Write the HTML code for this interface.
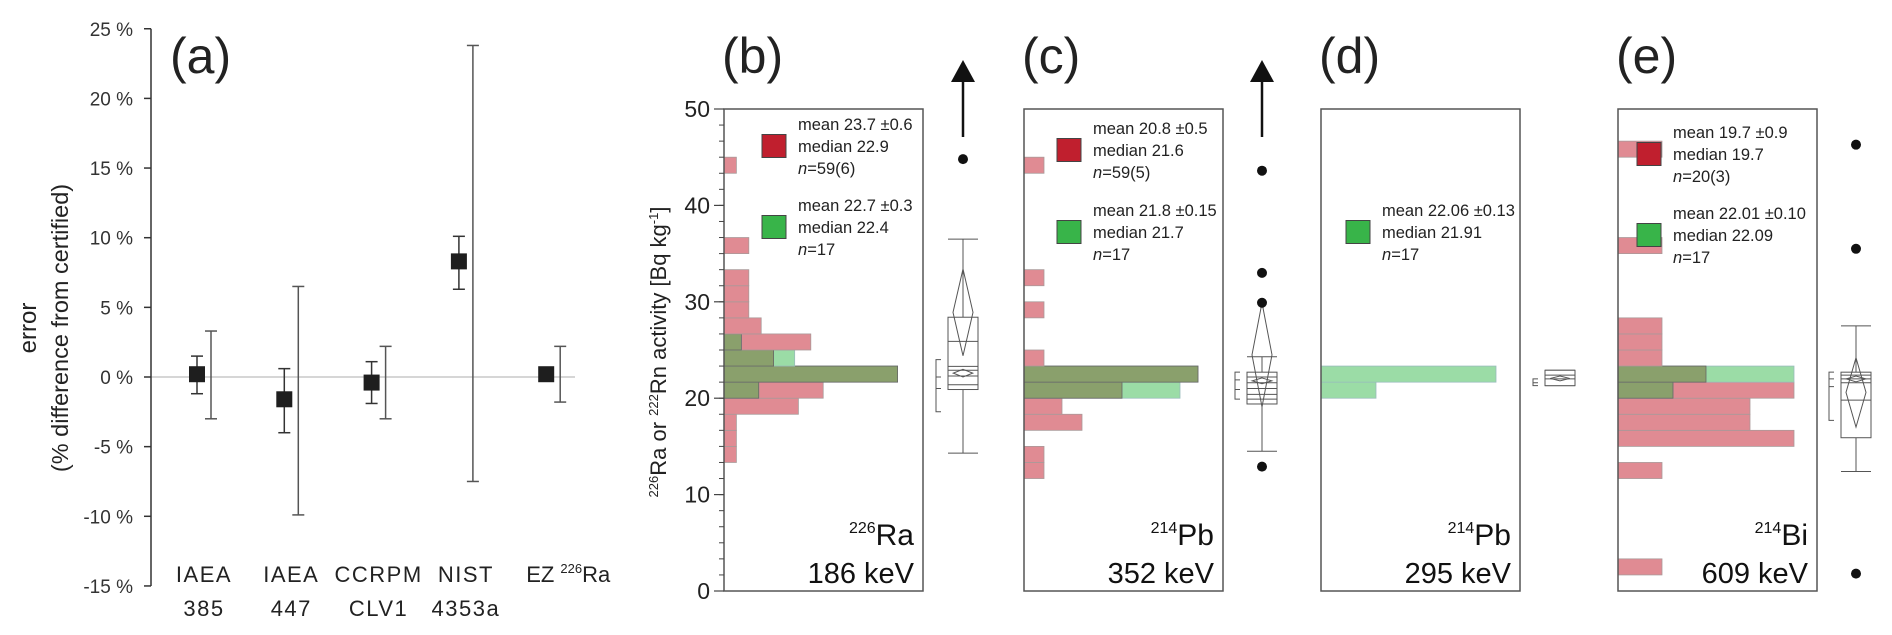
<!DOCTYPE html>
<html><head><meta charset="utf-8">
<style>
html,body{margin:0;padding:0;background:#fff;}
svg{display:block;font-family:"Liberation Sans",sans-serif;}
</style></head>
<body>
<svg id="chart" width="1892" height="635" viewBox="0 0 1892 635" xmlns="http://www.w3.org/2000/svg"></svg>
<script>
// ---------- Panel (a) data ----------
const aCategories = [["IAEA","385"],["IAEA","447"],["CCRPM","CLV1"],["NIST","4353a"],["EZ",""]];
const aValues = [0.2,-1.6,-0.4,8.3,0.2];
const aErrHi = [1.5,0.6,1.1,10.1,null];
const aErrLo = [-1.2,-4.0,-1.9,6.3,null];
const aBigHi = [3.3,6.5,2.2,23.8,2.2];
const aBigLo = [-3.0,-9.9,-3.0,-7.5,-1.8];
const aTicks = [25,20,15,10,5,0,-5,-10,-15];

// ---------- Histogram panels data (bins of 5/3 Bq/kg starting at 0) ----------
const binWidth = 5/3;
const bRed   = [0,0,0,0,0,0,0,0,1,1,1,6,8,14,4,7,3,2,2,2,0,2,0,0,0,0,1,0,0,0];
const bGreen = [0,0,0,0,0,0,0,0,0,0,0,0,2.8,14,5.7,1.4,0,0,0,0,0,0,0,0,0,0,0,0,0,0];
const cRed   = [0,0,0,0,0,0,0,1,1,0,2.9,1.9,4.9,8.7,1,0,0,1,0,1,0,0,0,0,0,0,1,0,0,0];
const cGreen = [0,0,0,0,0,0,0,0,0,0,0,0,7.8,8.7,0,0,0,0,0,0,0,0,0,0,0,0,0,0,0,0];
const dRed   = [0,0,0,0,0,0,0,0,0,0,0,0,0,0,0,0,0,0,0,0,0,0,0,0,0,0,0,0,0,0];
const dGreen = [0,0,0,0,0,0,0,0,0,0,0,0,2.75,8.75,0,0,0,0,0,0,0,0,0,0,0,0,0,0,0,0];
const eRed   = [0,1,0,0,0,0,0,1,0,4,3,3,4,2,1,1,1,0,0,0,0,1,0,0,0,0,0,1,0,0];
const eGreen = [0,0,0,0,0,0,0,0,0,0,0,0,1.25,4,0,0,0,0,0,0,0,0,0,0,0,0,0,0,0,0];
const yTicks = [0,10,20,30,40,50];
// box plot stats: [lowWhisker, q1, q3, highWhisker]
const bBox = [14.3,20.9,28.4,36.5];
const cBox = [14.5,19.4,22.7,24.3];
const dBox = [21.3,21.3,22.9,22.9];
const eBox = [12.4,15.9,22.7,27.5];
const bLines=[25.9,23.3,22.9,22.3,21.4]; const cLines=[22.2,21.6,21.0,20.4,19.9]; const dLines=[22.4,22.0]; const eLines=[22.4,22.0,21.6,19.8];
const bDiam=[24.4,33.4], cDiam=[19.1,29.9], eDiam=[17.0,24.2];
const bSmall=[22.2,23.0], cSmall=[21.5,22.1], dSmall=[21.8,22.3], eSmall=[21.7,22.3];
const bOut=[44.8], cOut=[43.6,33.0,29.9,12.9], dOut=[], eOut=[46.3,35.5,1.8];
const bBracket=[18.6,24.0,22.2,21.0], cBracket=[19.9,22.7,21.9,20.9], dBracket=[21.3,22.0,21.6,21.6], eBracket=[17.7,22.7,22.0,21.2];

const NS="http://www.w3.org/2000/svg";
const svg=document.getElementById('chart');
function el(tag,attrs,parent){const e=document.createElementNS(NS,tag);for(const k in attrs)e.setAttribute(k,attrs[k]);(parent||svg).appendChild(e);return e;}
function txt(x,y,s,size,anchor,parent,extra){const t=el('text',Object.assign({x:x,y:y,'font-size':size,'text-anchor':anchor||'start',fill:'#1a1a1a'},extra||{}),parent);t.innerHTML=s;return t;}

// ---------- Panel (a) ----------
const ga=el('g',{});


const aY=v=>377-v*13.93;
const aX=i=>197+i*87.3;
el('line',{x1:151,y1:aY(0),x2:575,y2:aY(0),stroke:'#d6d6d6','stroke-width':2},ga);
const axA=el('line',{x1:151,y1:aY(25),x2:151,y2:aY(-15),stroke:'#333','stroke-width':1.5},ga);

aTicks.forEach(t=>{
  el('line',{x1:144,y1:aY(t),x2:151,y2:aY(t),stroke:'#333','stroke-width':1.5},ga);
  const l=txt(133,aY(t)+7,t+' %',19,'end',ga,{fill:'#333'});
  
});
const at1=txt(0,0,'error',24,'middle',ga,{transform:'translate(36,328) rotate(-90)',fill:'#222'});

const at2=txt(0,0,'(% difference from certified)',23.5,'middle',ga,{transform:'translate(68,328) rotate(-90)',fill:'#222'});

const la=txt(170,73,'(a)',50,'start',ga,{fill:'#222'});

aCategories.forEach((c,i)=>{
  const x=aX(i), bx=x+14;
  const big=el('g',{},ga);
  
  el('line',{x1:bx,y1:aY(aBigHi[i]),x2:bx,y2:aY(aBigLo[i]),stroke:'#555','stroke-width':1.5},big);
  el('line',{x1:bx-6,y1:aY(aBigHi[i]),x2:bx+6,y2:aY(aBigHi[i]),stroke:'#555','stroke-width':1.5},big);
  el('line',{x1:bx-6,y1:aY(aBigLo[i]),x2:bx+6,y2:aY(aBigLo[i]),stroke:'#555','stroke-width':1.5},big);
  if(aErrHi[i]!==null){
    const sm=el('g',{},ga);
    
    el('line',{x1:x,y1:aY(aErrHi[i]),x2:x,y2:aY(aErrLo[i]),stroke:'#333','stroke-width':1.5},sm);
    el('line',{x1:x-6,y1:aY(aErrHi[i]),x2:x+6,y2:aY(aErrHi[i]),stroke:'#333','stroke-width':1.5},sm);
    el('line',{x1:x-6,y1:aY(aErrLo[i]),x2:x+6,y2:aY(aErrLo[i]),stroke:'#333','stroke-width':1.5},sm);
  }
  const p=el('rect',{x:x-8,y:aY(aValues[i])-8,width:16,height:16,fill:'#1e1e1e'},ga);
  
  if(i<4){
    const t1=txt(x+7,582,c[0],22,'middle',ga,{fill:'#222','letter-spacing':'1.5'});
    
    const t2=txt(x+7,616,c[1],22,'middle',ga,{fill:'#222','letter-spacing':'1.5'});
    
  } else {
    const t1=txt(x-20,582,'EZ <tspan font-size="13" dy="-9">226</tspan><tspan dy="9">Ra</tspan>',22,'start',ga,{fill:'#222'});
    
  }
});

// ---------- Histogram panels ----------
const hY=v=>591-v*9.64;
function panel(cfg){
  const g=el('g',{});
  
  
  const L=cfg.left,R=L+199;
  const lbl=txt(L-2,73,'('+cfg.id+')',50,'start',g,{fill:'#222'});
  
  for(let i=0;i<cfg.red.length;i++){
    const y0=hY((i+1)*binWidth),h=binWidth*9.64;
    const r=cfg.red[i],gr=cfg.green[i],m=Math.min(r,gr);
    if(r>0){const b=el('rect',{x:L,y:y0,width:r*cfg.unit,height:h,fill:'#e08b93',stroke:'#a99','stroke-width':0.8},g);
      }
    if(gr>0){const b=el('rect',{x:L,y:y0,width:gr*cfg.unit,height:h,fill:'#9bdca6',stroke:'#9bb','stroke-width':0.8},g);
      }
    if(m>0){const b=el('rect',{x:L,y:y0,width:m*cfg.unit,height:h,fill:'#8aa06c',stroke:'#666','stroke-width':0.8},g);
      }
  }
  const fr=el('rect',{x:L,y:hY(50),width:199,height:hY(0)-hY(50),fill:'none',stroke:'#555','stroke-width':1.5},g);
  
  if(cfg.axis){
    const ax=el('g',{},g);
    
    for(let v=0;v<=50.01;v+=binWidth){el('line',{x1:L-5,y1:hY(v),x2:L,y2:hY(v),stroke:'#444','stroke-width':1},ax);}
    yTicks.forEach(t=>{el('line',{x1:L-10,y1:hY(t),x2:L,y2:hY(t),stroke:'#444','stroke-width':1.2},ax);
      const tl=txt(L-14,hY(t)+8,String(t),23,'end',ax,{fill:'#222'});
      });
    const yt=txt(0,0,'<tspan font-size="13" dy="-8">226</tspan><tspan dy="8">Ra or </tspan><tspan font-size="13" dy="-8">222</tspan><tspan dy="8">Rn activity [Bq kg</tspan><tspan font-size="13" dy="-8">-1</tspan><tspan dy="8">]</tspan>',22,'middle',g,{transform:'translate(666,352) rotate(-90)',fill:'#222'});
    
  }
  cfg.legends.forEach(lg=>{
    const lgG=el('g',{},g);
    
    el('rect',{x:L+cfg.sqX,y:lg.y-11.5,width:24,height:23,fill:lg.color,stroke:'#444','stroke-width':1},lgG);
    const tx=L+cfg.sqX+36;
    txt(tx,lg.y-16,lg.lines[0],16.5,'start',lgG,{fill:'#222'});
    txt(tx,lg.y+6,lg.lines[1],16.5,'start',lgG,{fill:'#222'});
    txt(tx,lg.y+28,'<tspan font-style="italic">n</tspan>='+lg.lines[2],16.5,'start',lgG,{fill:'#222'});
  });
  const iso=txt(R-9,545,'<tspan font-size="16" dy="-12">'+cfg.mass+'</tspan><tspan dy="12">'+cfg.el+'</tspan>',30,'end',g,{fill:'#111'});
  
  const en=txt(R-9,583,cfg.energy,29,'end',g,{fill:'#111'});
  
  const bp=el('g',{},g);
  
  const cx=cfg.cx,bw=cfg.boxHalf,st={stroke:'#555','stroke-width':1,fill:'none'};
  const B=cfg.box;
  el('line',Object.assign({x1:cx,y1:hY(B[0]),x2:cx,y2:hY(B[3])},st),bp);
  el('line',Object.assign({x1:cx-bw,y1:hY(B[0]),x2:cx+bw,y2:hY(B[0])},st),bp);
  el('line',Object.assign({x1:cx-bw,y1:hY(B[3]),x2:cx+bw,y2:hY(B[3])},st),bp);
  el('rect',{x:cx-bw,y:hY(B[2]),width:2*bw,height:hY(B[1])-hY(B[2]),fill:'#fff',stroke:'#555','stroke-width':1},bp);
  cfg.lines.forEach(v=>el('line',Object.assign({x1:cx-bw,y1:hY(v),x2:cx+bw,y2:hY(v)},st),bp));
  if(cfg.diam){const d=cfg.diam,m=(d[0]+d[1])/2;
    el('polygon',Object.assign({points:`${cx},${hY(d[1])} ${cx+10},${hY(m)} ${cx},${hY(d[0])} ${cx-10},${hY(m)}`},st),bp);}
  const s=cfg.small,sm=(s[0]+s[1])/2;
  el('polygon',Object.assign({points:`${cx},${hY(s[1])} ${cx+bw*0.65},${hY(sm)} ${cx},${hY(s[0])} ${cx-bw*0.65},${hY(sm)}`},st),bp);
  cfg.out.forEach(v=>{const c=el('circle',{cx:cx,cy:hY(v),r:5,fill:'#111'},g);
    });
  const br=cfg.bracket,bxx=cx-bw-12;
  const bk=el('path',{d:`M${bxx+5},${hY(br[1])} H${bxx} V${hY(br[0])} H${bxx+5} M${bxx},${hY(br[2])} H${bxx+5} M${bxx},${hY(br[3])} H${bxx+5}`,stroke:'#555','stroke-width':1,fill:'none'},g);
  
  if(cfg.arrow){const a=el('g',{},g);
    
    el('line',{x1:cx,y1:137,x2:cx,y2:76,stroke:'#111','stroke-width':2.5},a);
    el('polygon',{points:`${cx},60 ${cx-12},82 ${cx+12},82`,fill:'#111'},a);}
}
panel({id:'b',left:724,axis:true,unit:12.4,sqX:38,red:bRed,green:bGreen,cx:963,boxHalf:15,box:bBox,lines:bLines,diam:bDiam,small:bSmall,out:bOut,bracket:bBracket,arrow:true,mass:'226',el:'Ra',energy:'186 keV',
  legends:[{y:146,color:'#c01f2e',lines:['mean 23.7 ±0.6','median 22.9','59(6)']},{y:227,color:'#38b449',lines:['mean 22.7 ±0.3','median 22.4','17']}]});
panel({id:'c',left:1024,axis:false,unit:20,sqX:33,red:cRed,green:cGreen,cx:1262,boxHalf:15,box:cBox,lines:cLines,diam:cDiam,small:cSmall,out:cOut,bracket:cBracket,arrow:true,mass:'214',el:'Pb',energy:'352 keV',
  legends:[{y:150,color:'#c01f2e',lines:['mean 20.8 ±0.5','median 21.6','59(5)']},{y:232,color:'#38b449',lines:['mean 21.8 ±0.15','median 21.7','17']}]});
panel({id:'d',left:1321,axis:false,unit:20,sqX:25,red:dRed,green:dGreen,cx:1560,boxHalf:15,box:dBox,lines:dLines,diam:null,small:dSmall,out:dOut,bracket:dBracket,arrow:false,mass:'214',el:'Pb',energy:'295 keV',
  legends:[{y:232,color:'#38b449',lines:['mean 22.06 ±0.13','median 21.91','17']}]});
panel({id:'e',left:1618,axis:false,unit:44,sqX:19,red:eRed,green:eGreen,cx:1856,boxHalf:15,box:eBox,lines:eLines,diam:eDiam,small:eSmall,out:eOut,bracket:eBracket,arrow:false,mass:'214',el:'Bi',energy:'609 keV',
  legends:[{y:154,color:'#c01f2e',lines:['mean 19.7 ±0.9','median 19.7','20(3)']},{y:235,color:'#38b449',lines:['mean 22.01 ±0.10','median 22.09','17']}]});
</script>
</body></html>
